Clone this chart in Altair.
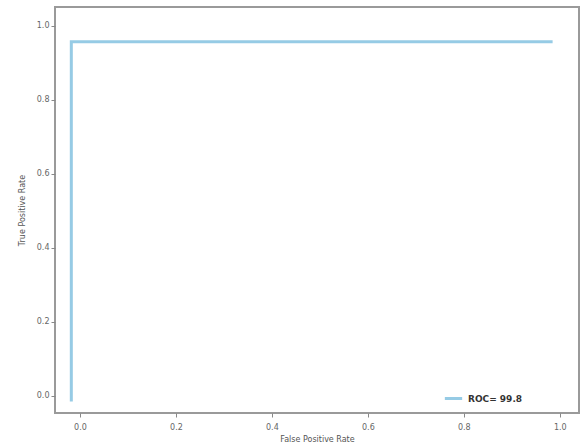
import altair as alt
import pandas as pd

fpr = [-0.018, -0.018, 0.985]
tpr = [-0.015, 0.957, 0.957]
order = [0, 1, 2]
series = ["ROC= 99.8", "ROC= 99.8", "ROC= 99.8"]
x_ticks = [0.0, 0.2, 0.4, 0.6, 0.8, 1.0]
y_ticks = [0.0, 0.2, 0.4, 0.6, 0.8, 1.0]

df = pd.DataFrame({"fpr": fpr, "tpr": tpr, "o": order, "s": series})

line = alt.Chart(df).mark_line(strokeWidth=3, strokeCap="butt", strokeJoin="miter").encode(
    x=alt.X("fpr:Q", scale=alt.Scale(domain=[-0.052, 1.040], nice=False, zero=False),
            axis=alt.Axis(values=x_ticks, format=".1f", title="False Positive Rate", titlePadding=4,
                          labelPadding=6, grid=False, domain=False)),
    y=alt.Y("tpr:Q", scale=alt.Scale(domain=[-0.046, 1.051], nice=False, zero=False),
            axis=alt.Axis(values=y_ticks, format=".1f", title="True Positive Rate", titlePadding=10,
                          grid=False, domain=False)),
    order="o:Q",
    color=alt.Color("s:N", scale=alt.Scale(range=["#96cbe5"]),
                    legend=alt.Legend(title=None, orient="none", legendX=388, legendY=381,
                                      symbolType="stroke", symbolStrokeWidth=3, symbolSize=300,
                                      labelFontSize=9, labelFontWeight="bold", labelColor="#333",
                                      labelFont="DejaVu Sans")),
)

chart = line.properties(
    width=524, height=406,
    background="white",
    autosize=alt.AutoSizeParams(type="none"),
    padding={"left": 55, "top": 7, "right": 1, "bottom": 35},
).configure_view(stroke="#9a9a9a", strokeWidth=2).configure_axis(
    grid=False, domain=False, tickColor="#888", tickSize=4, tickWidth=1,
    labelFontSize=8, labelColor="#666", labelFont="DejaVu Sans",
    titleFontSize=8, titleColor="#555", titleFontWeight="normal", titleFont="DejaVu Sans",
)

chart.save("out.html", embed_options={"renderer": "svg", "actions": False})
